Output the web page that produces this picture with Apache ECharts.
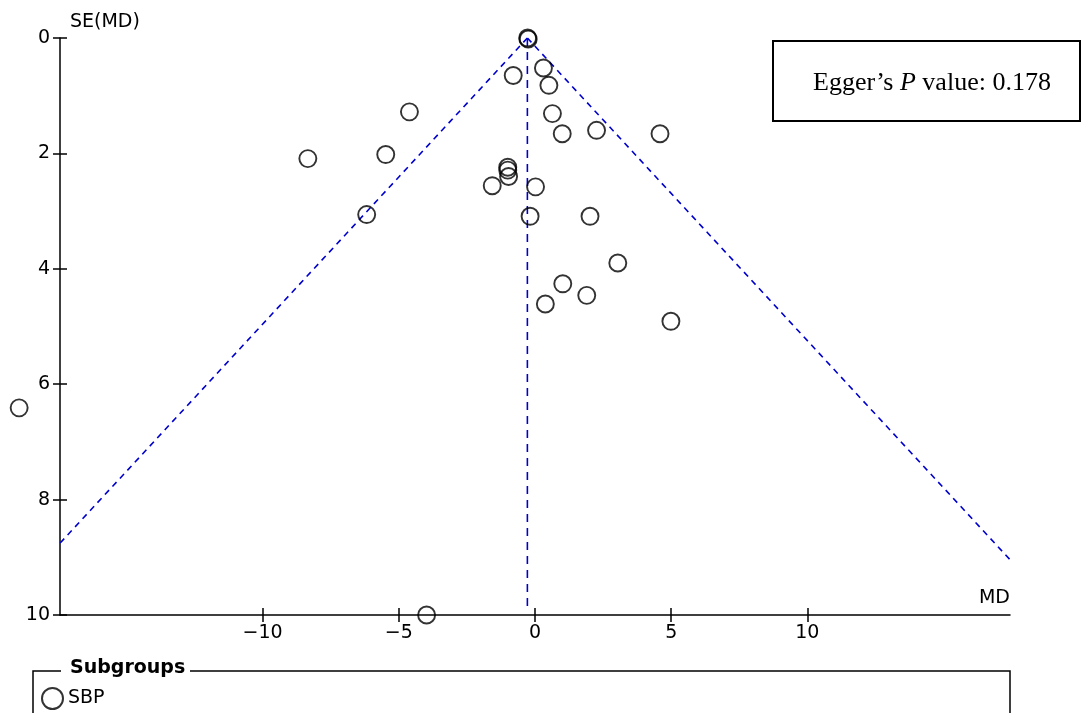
<!doctype html>
<html>

<head>
    <meta charset="utf-8">
    <title>Funnel plot</title>
    <script type="text/javascript" src="https://cdn.jsdelivr.net/npm/echarts@6/dist/echarts.min.js"></script>
</head>

<body style="margin:0;padding:0;background:#fff">
    <div id="fp" style="width:1082px;height:713px"></div>
    <script>
        // study estimates (MD vs SE(MD))
        var mdValues = [-0.27, -0.25, -0.80, 0.31, 0.51, 0.64, 1.00, 2.26, 4.59,
            -4.61, -8.34, -5.48, -6.18,
            -1.00, -1.00, -0.97, -1.57, 0.02, -0.18, 2.02,
            3.04, 1.02, 1.90, 0.38, 4.99,
            -18.94, -3.98];
        var seValues = [0.00, 0.02, 0.65, 0.52, 0.82, 1.31, 1.66, 1.60, 1.66,
            1.28, 2.09, 2.02, 3.06,
            2.24, 2.29, 2.40, 2.56, 2.58, 3.09, 3.09,
            3.90, 4.26, 4.46, 4.61, 4.91,
            6.41, 10.0];
        var xTicks = [-10, -5, 0, 5, 10];
        var pooledMD = -0.28; // 竖线位置
        var zCrit = 1.96;
        var seMax = 10;
        var eggerP = '0.178';

        var points = mdValues.map(function (v, i) { return [v, seValues[i]]; });
        var leftLine = [[pooledMD, 0], [pooledMD - zCrit * seMax, seMax]];
        var rightLine = [[pooledMD, 0], [pooledMD + zCrit * seMax, seMax]];
        var midLine = [[pooledMD, 0], [pooledMD, 9.9]];

        var font = 'DejaVu Sans';
        var minus = function (v) { return String(v).replace('-', '\u2212'); };
        var dashStyle = { color: '#0000cc', width: 1.6, type: [6, 5] };
        var tickStyle = { color: '#000', width: 1.5 };

        var chart = echarts.init(document.getElementById('fp'));
        chart.setOption({
            animation: false,
            grid: { left: 60, right: 72, top: 38, bottom: 98, outerBoundsMode: 'none' },
            xAxis: [{
                type: 'value', min: -17.44, max: 17.44,
                name: 'MD', nameLocation: 'end', nameGap: 0,
                nameTextStyle: { fontFamily: font, fontSize: 19, color: '#000', align: 'right', verticalAlign: 'bottom', padding: [0, 0, 7, 0] },
                splitLine: { show: false },
                axisLine: { onZero: false, lineStyle: { color: '#000', width: 1.5 } },
                axisTick: { customValues: xTicks, length: 7, lineStyle: tickStyle },
                axisLabel: { customValues: xTicks, formatter: minus, margin: 9, fontFamily: font, fontSize: 19, color: '#000' }
            }, {
                type: 'value', min: -17.44, max: 17.44, position: 'bottom',
                splitLine: { show: false }, axisLabel: { show: false },
                axisLine: { show: false, onZero: false },
                axisTick: { customValues: xTicks, inside: true, length: 7, lineStyle: tickStyle }
            }],
            yAxis: [{
                type: 'value', min: 0, max: 10, interval: 2, inverse: true,
                name: 'SE(MD)', nameLocation: 'start', nameGap: 6,
                nameTextStyle: { fontFamily: font, fontSize: 19, color: '#000', align: 'left', padding: [0, 0, 0, 10] },
                splitLine: { show: false },
                axisLine: { onZero: false, lineStyle: { color: '#000', width: 1.5 } },
                axisTick: { length: 7, lineStyle: tickStyle },
                axisLabel: { margin: 10, fontFamily: font, fontSize: 19, color: '#000' }
            }, {
                type: 'value', min: 0, max: 10, interval: 2, inverse: true, position: 'left',
                splitLine: { show: false }, axisLabel: { show: false },
                axisLine: { show: false, onZero: false },
                axisTick: { inside: true, length: 7, lineStyle: tickStyle }
            }],
            legend: {
                data: ['SBP'], left: 36, top: 682, icon: 'circle', itemWidth: 21, itemHeight: 21, itemGap: 6,
                textStyle: { fontFamily: font, fontSize: 19, color: '#000' }
            },
            series: [{
                name: 'SBP', type: 'scatter', data: points, symbol: 'circle', symbolSize: 17, clip: false, z: 5,
                itemStyle: { color: 'rgba(0,0,0,0)', borderColor: '#000', borderWidth: 1.9 }
            }, {
                type: 'line', data: leftLine, symbol: 'none', clip: true, lineStyle: dashStyle
            }, {
                type: 'line', data: rightLine, symbol: 'none', clip: true, lineStyle: dashStyle
            }, {
                type: 'line', data: midLine, symbol: 'none', clip: true,
                lineStyle: { color: '#0000cc', width: 1.6, type: [8, 6] }
            }],
            graphic: [
                // Egger box
                { type: 'rect', shape: { x: 773, y: 41, width: 307, height: 80 }, style: { fill: '#fff', stroke: '#000', lineWidth: 2 } },
                {
                    type: 'text', x: 932, y: 83,
                    style: {
                        text: '{n|Egger\u2019s }{i|P}{n| value: ' + eggerP + '}',
                        align: 'center', verticalAlign: 'middle',
                        rich: {
                            n: { fontFamily: 'Liberation Serif', fontSize: 26, fill: '#000' },
                            i: { fontFamily: 'Liberation Serif', fontSize: 26, fontStyle: 'italic', fill: '#000' }
                        }
                    }
                },
                // subgroup frame
                { type: 'polyline', shape: { points: [[33, 713], [33, 671], [61, 671]] }, style: { stroke: '#000', lineWidth: 1.5, fill: null } },
                { type: 'polyline', shape: { points: [[190, 671], [1010, 671], [1010, 713]] }, style: { stroke: '#000', lineWidth: 1.5, fill: null } },
                { type: 'text', x: 70, y: 668, style: { text: 'Subgroups', fontFamily: font, fontSize: 19, fontWeight: 'bold', fill: '#000', verticalAlign: 'middle' } }
            ]
        });
    </script>
</body>

</html>
